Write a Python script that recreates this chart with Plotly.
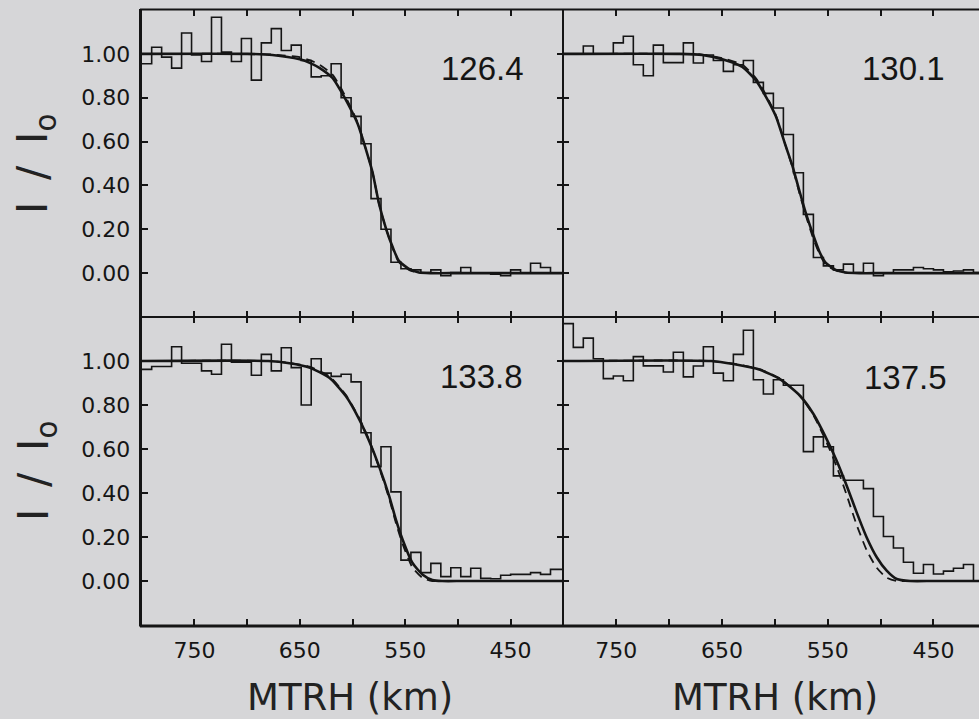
import plotly.graph_objects as go

# ---------------- data ----------------
BIN_WIDTH_KM = 9.46
N_BINS = 42
X_MAX_KM, X_MIN_KM = 800, 400

LABELS = ["126.4", "130.1", "133.8", "137.5"]

HIST_126 = [0.955, 1.03, 0.985, 0.935, 1.095, 0.995, 0.965, 1.167, 1.008, 0.965,
            1.07, 0.88, 1.05, 1.115, 1.015, 1.04, 0.97, 0.895, 0.90, 0.955,
            0.80, 0.715, 0.59, 0.34, 0.20, 0.05, 0.02, 0.015, 0.003, 0.015,
            -0.012, 0.003, 0.026, 0.0, 0.0, -0.005, -0.012, 0.015, 0.0, 0.045,
            0.026, 0.0]
HIST_130 = [1.0, 1.0, 1.036, 1.0, 1.0, 1.05, 1.08, 0.95, 0.90, 1.04,
            0.96, 0.96, 1.05, 0.958, 0.995, 0.97, 0.92, 0.95, 0.97, 0.87,
            0.82, 0.753, 0.632, 0.458, 0.268, 0.071, 0.033, 0.015, 0.041, 0.003,
            0.045, -0.012, 0.0, 0.015, 0.015, 0.026, 0.02, 0.015, 0.006, 0.01,
            0.015, 0.003]
HIST_133 = [0.962, 0.975, 0.975, 1.065, 0.99, 0.99, 0.955, 0.94, 1.076, 0.995,
            0.995, 0.935, 1.03, 0.955, 1.06, 0.97, 0.80, 1.01, 0.945, 0.93,
            0.94, 0.905, 0.674, 0.52, 0.61, 0.405, 0.095, 0.13, 0.038, 0.08,
            0.02, 0.06, 0.02, 0.058, 0.012, 0.01, 0.026, 0.03, 0.03, 0.038,
            0.03, 0.053]
HIST_137 = [1.17, 1.062, 1.104, 1.01, 0.92, 0.932, 0.91, 1.02, 0.978, 0.978,
            0.95, 1.04, 0.928, 0.977, 1.065, 0.945, 0.91, 1.03, 1.14, 0.915,
            0.85, 0.915, 0.89, 0.89, 0.588, 0.655, 0.61, 0.478, 0.458, 0.458,
            0.42, 0.293, 0.202, 0.15, 0.085, 0.035, 0.075, 0.032, 0.045, 0.058,
            0.075, 0.0]

FIT_KM_126 = [800, 700, 676, 650, 640, 631, 619, 611, 603, 595, 587, 581, 575, 568, 562, 556, 546, 537, 525, 500, 400]
FIT_126 = [1.0, 1.0, 0.995, 0.975, 0.958, 0.935, 0.89, 0.83, 0.76, 0.68, 0.56, 0.46, 0.32, 0.20, 0.12, 0.056, 0.018, 0.003, 0.0, 0.0, 0.0]
DASH_126 = [1.0, 1.0, 0.997, 0.985, 0.97, 0.95, 0.905, 0.845, 0.77, 0.685, 0.56, 0.46, 0.32, 0.20, 0.115, 0.05, 0.014, 0.002, 0.0, 0.0, 0.0]

FIT_KM_130 = [800, 690, 668.6, 649.6, 630.7, 618, 608.6, 599, 589.7, 583.4, 577, 570.8, 564.5, 558, 552, 542.4, 533, 520, 500, 400]
FIT_130 = [1.0, 1.0, 0.995, 0.975, 0.94, 0.88, 0.806, 0.715, 0.58, 0.49, 0.38, 0.276, 0.185, 0.10, 0.048, 0.015, 0.003, 0.0, 0.0, 0.0]
DASH_130 = [1.0, 1.0, 0.997, 0.98, 0.95, 0.89, 0.815, 0.72, 0.58, 0.485, 0.37, 0.265, 0.17, 0.09, 0.04, 0.012, 0.002, 0.0, 0.0, 0.0]

FIT_KM_133 = [800, 680, 659.8, 640.9, 622, 606.2, 593.6, 584.2, 574.7, 565.2, 558.9, 552.6, 543.2, 533.7, 524.2, 515, 495, 400]
FIT_133 = [1.0, 1.0, 0.99, 0.97, 0.924, 0.84, 0.735, 0.636, 0.52, 0.386, 0.28, 0.19, 0.083, 0.03, 0.005, 0.0, 0.0, 0.0]
DASH_133 = [1.0, 1.0, 0.992, 0.974, 0.93, 0.845, 0.74, 0.64, 0.515, 0.375, 0.265, 0.17, 0.062, 0.015, 0.0, 0.0, 0.0, 0.0]

FIT_KM_137 = [800, 660, 639.2, 614, 595.1, 576.2, 563.6, 551, 541.5, 532, 522.6, 513.1, 503.6, 494.2, 484.7, 472, 450, 400]
FIT_137 = [1.0, 1.0, 0.986, 0.96, 0.918, 0.842, 0.76, 0.645, 0.547, 0.433, 0.312, 0.198, 0.108, 0.047, 0.009, 0.0, 0.0, 0.0]
DASH_137 = [1.0, 1.0, 0.988, 0.962, 0.92, 0.842, 0.755, 0.63, 0.52, 0.39, 0.255, 0.14, 0.06, 0.015, 0.0, 0.0, 0.0, 0.0]

Y_TICKS = [0.0, 0.2, 0.4, 0.6, 0.8, 1.0]
Y_TICK_TEXT = ["0.00", "0.20", "0.40", "0.60", "0.80", "1.00"]
X_TICKS = [750, 700, 650, 600, 550, 500, 450]
X_TICK_TEXT = ["750", " ", "650", " ", "550", " ", "450"]
X_TITLE = "MTRH (km)"
Y_TITLE = "I \u2009/\u2009 I<sub>o</sub>"

# ---------------- figure ----------------
W, H = 979, 719
BG = "#d6d6d8"
INK = "#151515"

edges = [X_MAX_KM - BIN_WIDTH_KM * k for k in range(N_BINS)] + [X_MIN_KM]

panels = [
    (HIST_126, FIT_KM_126, FIT_126, DASH_126),
    (HIST_130, FIT_KM_130, FIT_130, DASH_130),
    (HIST_133, FIT_KM_133, FIT_133, DASH_133),
    (HIST_137, FIT_KM_137, FIT_137, DASH_137),
]

fig = go.Figure()
for i, (hist, fkm, fit, dash) in enumerate(panels):
    ax = "" if i == 0 else str(i + 1)
    xa, ya = "x" + ax, "y" + ax
    fig.add_trace(go.Scatter(x=edges, y=list(hist) + [hist[-1]], mode="lines",
                             line=dict(color=INK, width=1.6, shape="hv"),
                             xaxis=xa, yaxis=ya, showlegend=False, hoverinfo="skip"))
    fig.add_trace(go.Scatter(x=fkm, y=dash, mode="lines",
                             line=dict(color=INK, width=1.8, dash="9px,6px", shape="spline", smoothing=0.6),
                             xaxis=xa, yaxis=ya, showlegend=False, hoverinfo="skip"))
    fig.add_trace(go.Scatter(x=fkm, y=fit, mode="lines",
                             line=dict(color=INK, width=2.6, shape="spline", smoothing=0.6),
                             xaxis=xa, yaxis=ya, showlegend=False, hoverinfo="skip"))

def px_x(p):
    return p / W

def px_y(p):
    return 1 - p / H

X_L = [px_x(141.7), px_x(563.3)]
X_R = [px_x(563.3), 1.0]
Y_T = [px_y(317), px_y(10)]
Y_B = [px_y(625), px_y(317)]
right_min = X_MAX_KM - (W - 563.3) / 1.0575

tickfont = dict(family="DejaVu Sans", size=22, color=INK)

def xaxis(domain, anchor, rng, labels):
    return dict(domain=domain, anchor=anchor, range=rng, tickvals=X_TICKS,
                ticktext=X_TICK_TEXT, showticklabels=labels, ticks="inside",
                ticklen=6, tickwidth=2, tickcolor=INK, showline=True,
                linecolor=INK, linewidth=1.2, mirror="ticks", showgrid=False,
                zeroline=False, tickfont=tickfont, ticklabelstandoff=5)

def yaxis(domain, anchor, labels, mirror):
    return dict(domain=domain, anchor=anchor, range=[-0.2, 1.2], tickvals=Y_TICKS,
                ticktext=Y_TICK_TEXT, showticklabels=labels, ticks="inside",
                ticklen=6, tickwidth=2, tickcolor=INK, showline=True,
                linecolor=INK, linewidth=1.2, mirror=mirror, showgrid=False,
                zeroline=False, tickfont=tickfont, ticklabelstandoff=6)

fig.update_layout(
    width=W, height=H, margin=dict(l=0, r=0, t=0, b=0),
    paper_bgcolor=BG, plot_bgcolor=BG, showlegend=False,
    xaxis=xaxis(X_L, "y", [X_MAX_KM, X_MIN_KM], False),
    yaxis=yaxis(Y_T, "x", True, "ticks"),
    xaxis2=xaxis(X_R, "y2", [X_MAX_KM, right_min], False),
    yaxis2=yaxis(Y_T, "x2", False, False),
    xaxis3=xaxis(X_L, "y3", [X_MAX_KM, X_MIN_KM], True),
    yaxis3=yaxis(Y_B, "x3", True, "ticks"),
    xaxis4=xaxis(X_R, "y4", [X_MAX_KM, right_min], True),
    yaxis4=yaxis(Y_B, "x4", False, False),
)

# heavier frame edges (left and bottom), as in the original figure
frame = dict(type="line", xref="paper", yref="paper", line=dict(color=INK, width=3))
fig.add_shape(**frame, x0=px_x(140.5), x1=px_x(140.5), y0=px_y(626.5), y1=px_y(9))
fig.add_shape(**frame, x0=px_x(140), x1=1.0, y0=px_y(626), y1=px_y(626))
fig.add_shape(type="line", xref="paper", yref="paper", line=dict(color=INK, width=1.8),
              x0=px_x(140), x1=1.0, y0=px_y(9.5), y1=px_y(9.5))

label_font = dict(family="Liberation Sans", size=33, color=INK)
label_pos = [(482, 68), (903, 68), (481, 376), (905, 378)]
for text, (lx, ly) in zip(LABELS, label_pos):
    fig.add_annotation(text=text, x=px_x(lx), y=px_y(ly), xref="paper", yref="paper",
                       showarrow=False, font=label_font, xanchor="center", yanchor="middle")

title_font = dict(family="DejaVu Sans", size=37, color="#222222")
for tx in (350, 775):
    fig.add_annotation(text=X_TITLE, x=px_x(tx), y=px_y(697), xref="paper", yref="paper",
                       showarrow=False, font=title_font, xanchor="center", yanchor="middle")
for ty in (164, 471):
    fig.add_annotation(text=Y_TITLE, x=px_x(36), y=px_y(ty), xref="paper", yref="paper",
                       showarrow=False, font=dict(family="DejaVu Sans", size=42, color="#222222"),
                       textangle=-90, xanchor="center", yanchor="middle")

fig.write_html("out.html", config={"displayModeBar": False},
               post_script="document.body.style.margin='0';document.body.style.overflow='hidden';")
